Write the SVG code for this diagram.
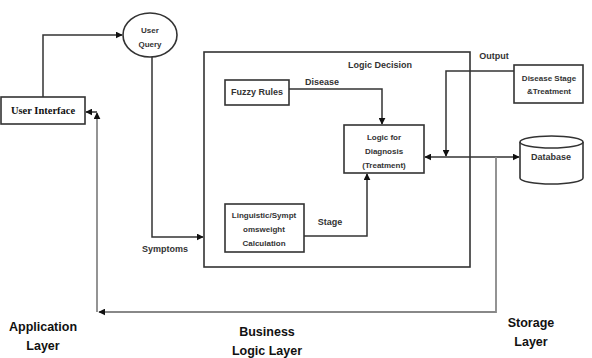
<svg xmlns="http://www.w3.org/2000/svg" width="592" height="358" viewBox="0 0 592 358">
<style>
.box{fill:#fff;stroke:#333;stroke-width:1.6}
.ln{fill:none;stroke:#333;stroke-width:1.5}
.lg{fill:none;stroke:#888;stroke-width:1.8}
.t{font-family:"Liberation Sans","Open Sans",sans-serif;font-weight:bold;fill:#333;text-anchor:middle}
.s{font-size:8px}
.m{font-size:9px}
.l{font-size:12.5px;fill:#111}
.ser{font-family:"Liberation Serif",serif;font-weight:bold;font-size:10.5px;fill:#111;text-anchor:middle}
</style>
<defs>
<marker id="ah" viewBox="0 0 10 10" refX="9" refY="5" markerWidth="7" markerHeight="7" markerUnits="userSpaceOnUse" orient="auto"><path d="M0,0 L10,5 L0,10 z" fill="#111"/></marker>
</defs>
<rect width="592" height="358" fill="#fff"/>
<g id="connectors">
<path class="ln" d="M43,97 V35 H122" marker-end="url(#ah)"/>
<path class="ln" d="M152,57 V237 H203" marker-end="url(#ah)"/>
<path class="ln" d="M289,89 H382 V124" marker-end="url(#ah)"/>
<path class="ln" d="M304,236 H367 V174" marker-end="url(#ah)"/>
<path class="ln" d="M514,71 H446 V156" marker-end="url(#ah)"/>
<path class="ln" d="M446,157 H425" marker-end="url(#ah)"/>
<path class="ln" d="M446,157 H519" marker-end="url(#ah)"/>
<path class="lg" d="M496,157 V312 H99" marker-end="url(#ah)"/>
<path class="lg" d="M97,312 V113" marker-end="url(#ah)"/>
<path class="ln" d="M97,112 H86" marker-end="url(#ah)"/>
</g>
<g id="logic-decision">
<rect x="204" y="52" width="266" height="215" fill="none" stroke="#333" stroke-width="1.6"/>
<text class="t m" x="380" y="68">Logic Decision</text>
</g>
<g id="user-interface">
<rect class="box" x="1" y="97" width="84" height="27"/>
<text class="ser" x="43" y="114">User Interface</text>
</g>
<g id="user-query">
<ellipse class="box" cx="150" cy="35" rx="27" ry="22"/>
<text class="t s" x="150" y="33">User</text>
<text class="t s" x="150" y="47">Query</text>
</g>
<g id="fuzzy-rules">
<rect class="box" x="225" y="80" width="64" height="25"/>
<text class="t m" x="257" y="95">Fuzzy Rules</text>
</g>
<g id="logic-diagnosis">
<rect class="box" x="344" y="125" width="80" height="48"/>
<text class="t s" x="384" y="140">Logic for</text>
<text class="t s" x="384" y="154">Diagnosis</text>
<text class="t s" x="384" y="168">(Treatment)</text>
</g>
<g id="linguistic">
<rect class="box" x="225" y="204" width="79" height="48"/>
<text class="t s" x="264" y="218">Linguistic/Sympt</text>
<text class="t s" x="264" y="232">omsweight</text>
<text class="t s" x="264" y="246">Calculation</text>
</g>
<g id="disease-stage">
<rect class="box" x="514" y="65" width="69" height="38"/>
<text class="t s" x="549" y="81">Disease Stage</text>
<text class="t s" x="549" y="94">&amp;Treatment</text>
</g>
<g id="database">
<path class="box" d="M520,142 V178 A31.5,6 0 0 0 583,178 V142"/>
<ellipse class="box" cx="551.5" cy="142" rx="31.5" ry="6"/>
<text class="t m" x="551" y="160">Database</text>
</g>
<g id="labels">
<text class="t m" x="322" y="85">Disease</text>
<text class="t m" x="330" y="225">Stage</text>
<text class="t m" x="165" y="252">Symptoms</text>
<text class="t m" x="494" y="59">Output</text>
<text class="t l" x="43" y="331">Application</text>
<text class="t l" x="43" y="350">Layer</text>
<text class="t l" x="267" y="336">Business</text>
<text class="t l" x="267" y="355">Logic Layer</text>
<text class="t l" x="531" y="327">Storage</text>
<text class="t l" x="531" y="346">Layer</text>
</g>
</svg>
